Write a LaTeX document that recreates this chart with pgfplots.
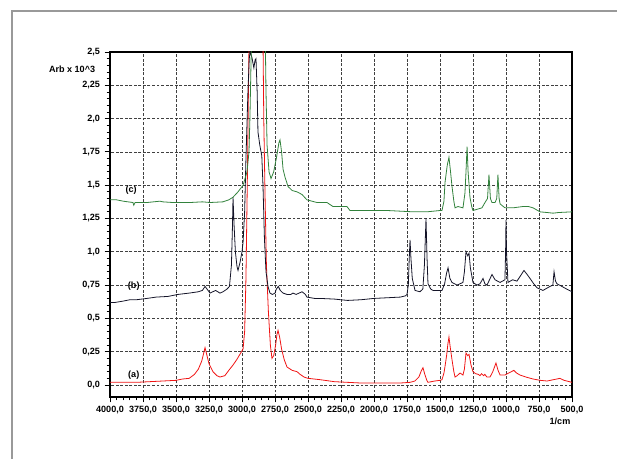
\documentclass[border=0pt]{standalone}
\usepackage{fontspec}
\setmainfont{Liberation Sans}
\usepackage{pgfplots}
\pgfplotsset{compat=1.18}

\definecolor{specred}{RGB}{240,20,20}
\definecolor{specgreen}{RGB}{50,130,60}
\definecolor{specblack}{RGB}{20,20,40}

\begin{document}
\begin{tikzpicture}
\path[use as bounding box] (0,0) rectangle (462.75pt,344.25pt);
\draw[black!40, line width=0.9pt] (9pt,0) -- (9pt,336pt) -- (462.75pt,336pt);
\begin{axis}[
    at={(82.5pt,46.5pt)}, anchor=south west,
    scale only axis, width=346.5pt, height=258.75pt,
    x dir=reverse, xmin=500, xmax=4000,
    ymin=-0.09, ymax=2.5,
    xtick={500,750,...,4000},
    xticklabels={{500,0},{750,0},{1000,0},{1250,0},{1500,0},{1750,0},{2000,0},{2250,0},{2500,0},{2750,0},{3000,0},{3250,0},{3500,0},{3750,0},{4000,0}},
    ytick={0,0.25,...,2.5},
    yticklabels={{0,0},{0,25},{0,5},{0,75},{1,0},{1,25},{1,5},{1,75},{2,0},{2,25},{2,5}},
    xtick pos=bottom, ytick pos=left,
    minor tick num=4,
    tick align=outside,
    major tick length=4pt, minor tick length=2.5pt,
    tick style={black, line width=0.6pt},
    every tick label/.append style={font=\bfseries\fontsize{6.8}{8}\selectfont},
    xticklabel style={yshift=1pt, inner xsep=0pt},
    grid=major,
    major grid style={black!75, dash pattern=on 2.2pt off 1.2pt, line width=0.55pt},
    axis line style={black, line width=0.8pt},
    clip mode=individual,
  ]
  % (a)
  \addplot[specred, line width=0.6pt] coordinates {
    (4000,0.02) (3900,0.02) (3800,0.02) (3700,0.025) (3600,0.03) (3500,0.035)
    (3450,0.045) (3400,0.05) (3360,0.08) (3330,0.12) (3305,0.18) (3290,0.24)
    (3280,0.28) (3270,0.24) (3250,0.16) (3220,0.10) (3190,0.07) (3167,0.06)
    (3130,0.07) (3100,0.11) (3068,0.15) (3040,0.19) (3010,0.24) (2992,0.27)
    (2980,0.40) (2970,0.80) (2960,1.50) (2950,2.30) (2945,2.70) (2935,3.00)
    (2930,3.20) (2880,3.00) (2850,2.90) (2840,2.50) (2835,2.00) (2825,1.40)
    (2815,0.90) (2800,0.55) (2785,0.30) (2773,0.20) (2760,0.22) (2745,0.30)
    (2735,0.38) (2727,0.41) (2715,0.36) (2700,0.27) (2680,0.19) (2659,0.135)
    (2620,0.11) (2583,0.10) (2560,0.08) (2530,0.06) (2500,0.05) (2409,0.04)
    (2300,0.025) (2200,0.02) (2100,0.015) (2000,0.015) (1900,0.015) (1800,0.015)
    (1727,0.02) (1690,0.03) (1660,0.06) (1640,0.11) (1629,0.13) (1615,0.08)
    (1600,0.035) (1591,0.02) (1540,0.03) (1500,0.035) (1485,0.04) (1470,0.09)
    (1462,0.14) (1450,0.22) (1440,0.31) (1432,0.36) (1422,0.28) (1409,0.19)
    (1395,0.10) (1386,0.06) (1370,0.07) (1348,0.09) (1326,0.075) (1315,0.12)
    (1303,0.24) (1290,0.22) (1280,0.23) (1265,0.15) (1250,0.10) (1230,0.085)
    (1210,0.08) (1197,0.07) (1185,0.085) (1170,0.07) (1160,0.08) (1145,0.06)
    (1121,0.06) (1100,0.10) (1076,0.165) (1060,0.11) (1045,0.075) (1008,0.075)
    (980,0.09) (940,0.11) (920,0.09) (894,0.075) (850,0.06) (795,0.045)
    (740,0.035) (689,0.03) (640,0.04) (591,0.05) (560,0.035) (500,0.02)
  };
  % (b)
  \addplot[specblack, line width=0.6pt] coordinates {
    (4000,0.62) (3960,0.62) (3900,0.63) (3850,0.64) (3800,0.64) (3720,0.65)
    (3650,0.66) (3560,0.665) (3485,0.68) (3400,0.69) (3330,0.70) (3300,0.71)
    (3280,0.74) (3265,0.72) (3242,0.69) (3200,0.71) (3167,0.69) (3144,0.70)
    (3114,0.72) (3095,0.74) (3080,0.90) (3072,1.20) (3068,1.41) (3060,1.20)
    (3050,1.00) (3038,0.89) (3030,0.86) (3015,0.92) (3000,1.00) (2992,1.07)
    (2980,1.30) (2970,1.70) (2955,2.20) (2945,2.45) (2939,2.50) (2925,2.46)
    (2910,2.38) (2901,2.44) (2894,2.45) (2885,2.20) (2879,1.90) (2865,1.80)
    (2850,1.72) (2841,1.50) (2830,1.10) (2818,0.85) (2803,0.74) (2788,0.69)
    (2770,0.68) (2750,0.69) (2740,0.72) (2725,0.74) (2710,0.71) (2689,0.69)
    (2659,0.68) (2630,0.68) (2614,0.69) (2590,0.68) (2545,0.70) (2520,0.68)
    (2508,0.66) (2450,0.65) (2409,0.65) (2300,0.645) (2200,0.635) (2100,0.64)
    (2000,0.65) (1900,0.655) (1800,0.66) (1760,0.67) (1750,0.68) (1740,0.75)
    (1733,0.95) (1727,1.09) (1720,0.95) (1710,0.80) (1689,0.71) (1652,0.70)
    (1630,0.72) (1618,0.90) (1606,1.25) (1598,0.95) (1591,0.76) (1570,0.72)
    (1553,0.71) (1500,0.71) (1485,0.71) (1465,0.76) (1450,0.84) (1439,0.88)
    (1425,0.80) (1409,0.77) (1371,0.75) (1326,0.77) (1315,0.85) (1303,1.00)
    (1290,0.97) (1280,0.99) (1270,0.88) (1250,0.77) (1220,0.75) (1197,0.76)
    (1174,0.80) (1160,0.76) (1144,0.75) (1120,0.80) (1106,0.83) (1083,0.79)
    (1045,0.77) (1008,0.79) (1003,1.00) (1000,1.24) (996,1.00) (985,0.77)
    (950,0.79) (917,0.78) (890,0.82) (864,0.86) (840,0.83) (818,0.80)
    (790,0.76) (765,0.73) (720,0.71) (667,0.74) (645,0.75) (636,0.85)
    (625,0.78) (614,0.76) (576,0.74) (540,0.72) (500,0.70)
  };
  % (c)
  \addplot[specgreen, line width=0.6pt] coordinates {
    (4000,1.39) (3950,1.39) (3900,1.38) (3826,1.37) (3820,1.35) (3810,1.37)
    (3720,1.37) (3621,1.38) (3600,1.375) (3523,1.37) (3394,1.37) (3300,1.375)
    (3242,1.37) (3144,1.375) (3100,1.39) (3068,1.41) (3030,1.45) (2992,1.50)
    (2962,1.60) (2947,1.75) (2940,2.00) (2932,2.40) (2925,2.70) (2920,2.80)
    (2880,2.70) (2850,2.75) (2825,2.70) (2818,2.20) (2810,1.80) (2795,1.60)
    (2780,1.55) (2760,1.60) (2740,1.70) (2720,1.82) (2712,1.84) (2700,1.75)
    (2689,1.62) (2674,1.56) (2651,1.49) (2620,1.46) (2583,1.45) (2545,1.43)
    (2508,1.39) (2432,1.37) (2356,1.37) (2311,1.34) (2250,1.34) (2205,1.34)
    (2182,1.31) (2100,1.31) (2000,1.31) (1900,1.31) (1800,1.305) (1700,1.30)
    (1600,1.30) (1500,1.31) (1485,1.31) (1470,1.38) (1462,1.52) (1445,1.65)
    (1432,1.71) (1420,1.60) (1409,1.49) (1395,1.38) (1386,1.33) (1364,1.34)
    (1326,1.33) (1311,1.44) (1303,1.60) (1295,1.79) (1287,1.60) (1273,1.41)
    (1260,1.34) (1250,1.31) (1182,1.33) (1159,1.37) (1140,1.40) (1129,1.58)
    (1118,1.40) (1106,1.37) (1083,1.37) (1070,1.40) (1061,1.58) (1052,1.40)
    (1045,1.36) (1008,1.33) (947,1.33) (871,1.34) (830,1.34) (795,1.33)
    (742,1.30) (690,1.295) (644,1.29) (600,1.295) (500,1.30)
  };
  \node[font=\bfseries\fontsize{6.8}{8}\selectfont] at (axis cs:3840,1.46) {(c)};
  \node[font=\bfseries\fontsize{6.8}{8}\selectfont] at (axis cs:3820,0.74) {(b)};
  \node[font=\bfseries\fontsize{6.8}{8}\selectfont] at (axis cs:3820,0.075) {(a)};
  \node[anchor=east, font=\bfseries\fontsize{6.8}{8}\selectfont] at (axis description cs:-0.022,0.951) {Arb x 10\^{}3};
  \node[font=\bfseries\fontsize{6.8}{8}\selectfont] at (axis description cs:0.974,-0.07) {1/cm};
\end{axis}
\end{tikzpicture}
\end{document}
